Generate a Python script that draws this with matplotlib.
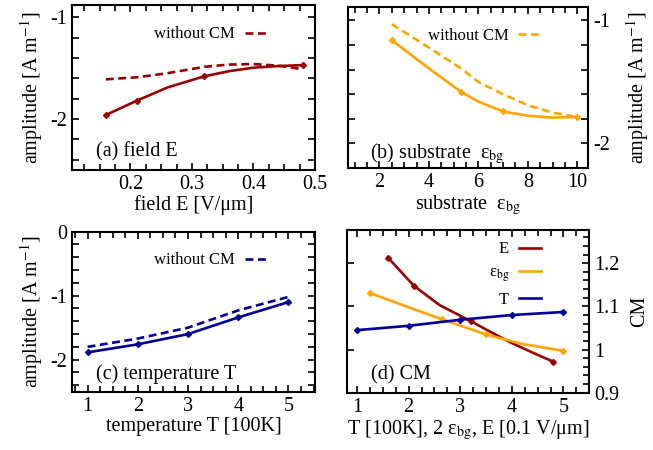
import matplotlib
matplotlib.use('Agg')
import matplotlib.pyplot as plt
from matplotlib.ticker import MultipleLocator, FuncFormatter

plt.rcParams['font.family'] = ['Liberation Serif', 'DejaVu Serif']
plt.rcParams['mathtext.fontset'] = 'stix'
plt.rcParams['axes.unicode_minus'] = False

# colours
red = '#990000'
orange = '#ffa500'
blue = '#000099'

# (a) field E
field_E = [0.16, 0.21, 0.32, 0.48]
amp_E = [-1.96, -1.82, -1.58, -1.47]
curve_E_x = [0.16, 0.21, 0.26, 0.32, 0.36, 0.40, 0.44, 0.48]
curve_E = [-1.96, -1.82, -1.69, -1.58, -1.53, -1.495, -1.48, -1.47]
curve_E_noCM = [-1.61, -1.59, -1.55, -1.487, -1.465, -1.46, -1.475, -1.51]

# (b) substrate eps_bg
eps = [2.5, 5.3, 7.0, 10.0]
amp_eps = [-1.16, -1.58, -1.74, -1.785]
curve_eps_x = [2.5, 4.0, 5.3, 6.0, 7.0, 8.0, 9.0, 10.0]
curve_eps = [-1.16, -1.39, -1.58, -1.66, -1.74, -1.775, -1.79, -1.785]
curve_eps_noCM = [-1.03, -1.22, -1.39, -1.50, -1.60, -1.69, -1.75, -1.785]

# (c) temperature T
temp = [1, 2, 3, 4, 5]
amp_T = [-1.886, -1.76, -1.60, -1.34, -1.10]
amp_T_noCM = [-1.80, -1.67, -1.50, -1.23, -1.02]

# (d) CM
cm_E_x = [1.6, 2.1, 3.2, 4.8]
cm_E = [1.213, 1.148, 1.066, 0.972]
cm_E_curve_x = [1.6, 2.1, 2.6, 3.2, 3.6, 4.0, 4.4, 4.8]
cm_E_curve = [1.213, 1.148, 1.103, 1.066, 1.04, 1.015, 0.993, 0.972]
cm_eps_x = [1.25, 2.65, 3.5, 5.0]
cm_eps = [1.131, 1.070, 1.035, 0.997]
cm_eps_curve_x = [1.25, 2.0, 2.65, 3.5, 4.2, 5.0]
cm_eps_curve = [1.131, 1.098, 1.070, 1.035, 1.013, 0.997]
cm_T = [1.045, 1.055, 1.069, 1.080, 1.087]

fig = plt.figure(figsize=(6.53, 4.5), dpi=100)
ax_a = fig.add_axes([0.1103, 0.6222, 0.3721, 0.3667])
ax_b = fig.add_axes([0.5329, 0.6267, 0.3675, 0.3578])
ax_c = fig.add_axes([0.1103, 0.1296, 0.3721, 0.3556])
ax_d = fig.add_axes([0.5309, 0.1273, 0.3715, 0.3616])

fs = 14.5
lw = 1.9
dash = (0, (3, 1.7))
ms = 3


def style(ax):
    for s in ax.spines.values():
        s.set_linewidth(1.5)
    ax.tick_params(which='both', direction='in', top=True, right=True,
                   labelsize=fs, width=1.2)
    ax.tick_params(which='major', length=5)
    ax.tick_params(which='minor', length=4)


def int_fmt(v, pos):
    if abs(v - round(v)) < 1e-6:
        return '%d' % round(v)
    return ''


def small_legend(ax, x, y):
    ax.legend(loc='upper right', bbox_to_anchor=(x, y), frameon=False,
              markerfirst=False, handlelength=1.3, handletextpad=0.6,
              fontsize=12, borderaxespad=0, borderpad=0)


ylab = 'amplitude [A m$^{\\mathrm{-1}}$]'

# (a)
ax_a.plot(curve_E_x, curve_E_noCM, color=red, lw=lw, ls=dash, label='without CM')
ax_a.plot(curve_E_x, curve_E, color=red, lw=lw)
ax_a.plot(field_E, amp_E, color=red, ls='none', marker='D', ms=ms)
ax_a.set_xlim(0.105, 0.5)
ax_a.set_ylim(-2.5, -0.88)
ax_a.xaxis.set_major_locator(MultipleLocator(0.1))
ax_a.xaxis.set_minor_locator(MultipleLocator(0.025))
ax_a.yaxis.set_major_locator(MultipleLocator(0.2))
ax_a.yaxis.set_major_formatter(FuncFormatter(int_fmt))
ax_a.set_xlabel('field E [V/μm]', fontsize=fs, labelpad=1)
ax_a.set_ylabel(ylab, fontsize=fs, labelpad=4)
ax_a.text(0.1, 0.08, '(a) field E', transform=ax_a.transAxes, fontsize=fs)
style(ax_a)
small_legend(ax_a, 0.80, 0.87)

# (b)
ax_b.plot(curve_eps_x, curve_eps_noCM, color=orange, lw=lw, ls=dash, label='without CM')
ax_b.plot(curve_eps_x, curve_eps, color=orange, lw=lw)
ax_b.plot(eps, amp_eps, color=orange, ls='none', marker='D', ms=ms)
ax_b.set_xlim(0.73, 10.43)
ax_b.set_ylim(-2.2, -0.89)
ax_b.xaxis.set_major_locator(MultipleLocator(2))
ax_b.xaxis.set_minor_locator(MultipleLocator(0.5))
ax_b.yaxis.set_major_locator(MultipleLocator(0.2))
ax_b.yaxis.set_major_formatter(FuncFormatter(int_fmt))
ax_b.yaxis.tick_right()
ax_b.yaxis.set_label_position('right')
ax_b.set_xlabel('substrate  ε$_{\\mathrm{bg}}$', fontsize=fs, labelpad=1)
ax_b.set_ylabel(ylab, fontsize=fs, labelpad=10)
ax_b.text(0.09, 0.06, '(b) substrate  ε$_{\\mathrm{bg}}$', transform=ax_b.transAxes, fontsize=fs)
style(ax_b)
ax_b.tick_params(left=True, labelleft=False, labelright=True)
small_legend(ax_b, 0.80, 0.87)

# (c)
ax_c.plot(temp, amp_T_noCM, color=blue, lw=lw, ls=dash, label='without CM')
ax_c.plot(temp, amp_T, color=blue, lw=lw, marker='D', ms=ms)
ax_c.set_xlim(0.69, 5.53)
ax_c.set_ylim(-2.5, 0)
ax_c.xaxis.set_major_locator(MultipleLocator(1))
ax_c.xaxis.set_minor_locator(MultipleLocator(0.25))
ax_c.yaxis.set_major_locator(MultipleLocator(0.2))
ax_c.yaxis.set_major_formatter(FuncFormatter(int_fmt))
ax_c.set_xlabel('temperature T [100K]', fontsize=fs, labelpad=1)
ax_c.set_ylabel(ylab, fontsize=fs, labelpad=4)
ax_c.text(0.1, 0.08, '(c) temperature T', transform=ax_c.transAxes, fontsize=fs)
style(ax_c)
small_legend(ax_c, 0.80, 0.87)

# (d)
ax_d.plot(cm_E_curve_x, cm_E_curve, color=red, lw=lw, label='E')
ax_d.plot(cm_E_x, cm_E, color=red, ls='none', marker='D', ms=ms)
ax_d.plot(cm_eps_curve_x, cm_eps_curve, color=orange, lw=lw, label='ε$_{\\mathrm{bg}}$')
ax_d.plot(cm_eps_x, cm_eps, color=orange, ls='none', marker='D', ms=ms)
ax_d.plot(temp, cm_T, color=blue, lw=lw, label='T')
ax_d.plot(temp, cm_T, color=blue, ls='none', marker='D', ms=ms)
ax_d.set_xlim(0.8, 5.5)
ax_d.set_ylim(0.9, 1.277)
ax_d.xaxis.set_major_locator(MultipleLocator(1))
ax_d.xaxis.set_minor_locator(MultipleLocator(0.25))
ax_d.yaxis.set_major_locator(MultipleLocator(0.1))
ax_d.yaxis.set_minor_locator(MultipleLocator(0.02))
ax_d.yaxis.set_major_formatter(FuncFormatter(lambda v, p: '%g' % round(v, 2)))
ax_d.yaxis.tick_right()
ax_d.yaxis.set_label_position('right')
ax_d.set_xlabel('T [100K], 2 ε$_{\\mathrm{bg}}$, E [0.1 V/μm]', fontsize=fs, labelpad=1)
ax_d.set_ylabel('CM', fontsize=fs, labelpad=8)
ax_d.text(0.1, 0.08, '(d) CM', transform=ax_d.transAxes, fontsize=fs)
style(ax_d)
ax_d.tick_params(left=True, labelleft=False, labelright=True)
ax_d.legend(loc='upper right', bbox_to_anchor=(0.80, 0.93), frameon=False,
            markerfirst=False, handlelength=1.3, handletextpad=0.6,
            fontsize=12, borderaxespad=0, borderpad=0, labelspacing=0.45)

fig.savefig('out.png', dpi=100)
